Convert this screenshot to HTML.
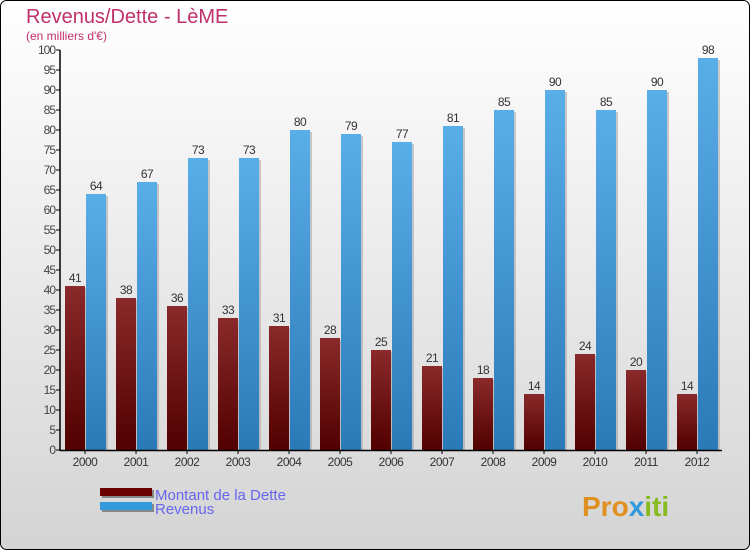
<!DOCTYPE html>
<html><head><meta charset="utf-8"><style>
body{margin:0}
svg text{font-family:"Liberation Sans",sans-serif}
</style></head><body>
<svg width="750" height="550" xmlns="http://www.w3.org/2000/svg">
<defs>
<linearGradient id="bg" x1="0" y1="0" x2="0" y2="1"><stop offset="0" stop-color="#ffffff"/><stop offset="1" stop-color="#d4d4d4"/></linearGradient>
<linearGradient id="gd" x1="0" y1="0" x2="0" y2="1"><stop offset="0" stop-color="#8a2a2a"/><stop offset="1" stop-color="#520000"/></linearGradient>
<linearGradient id="gr" x1="0" y1="0" x2="0" y2="1"><stop offset="0" stop-color="#5aaee8"/><stop offset="1" stop-color="#2a7ab8"/></linearGradient>
</defs>
<rect x="0.5" y="0.5" width="749" height="549" rx="6" fill="url(#bg)" stroke="#000"/>
<text x="26" y="23" font-size="20" fill="#c0306a">Revenus/Dette - LèME</text>
<text x="26" y="40" font-size="12" fill="#c0306a">(en milliers d'€)</text>
<g id="plot"></g>
<g>
<rect x="102" y="490" width="52" height="8" fill="#888"/><rect x="100" y="488" width="52" height="8" fill="#6a0000"/>
<text x="155" y="500" font-size="15" fill="#6666ee">Montant de la Dette</text>
<rect x="102" y="504" width="52" height="8" fill="#888"/><rect x="100" y="502" width="52" height="8" fill="#3399dd"/>
<text x="155" y="514" font-size="15" fill="#6666ee">Revenus</text>
</g>
<text x="582" y="516" font-size="28" font-weight="bold" fill="#e09020">Pro<tspan fill="#3399dd">x</tspan><tspan fill="#88bb22">iti</tspan></text>
</svg>
<script>
const years=["2000","2001","2002","2003","2004","2005","2006","2007","2008","2009","2010","2011","2012"];
const dette=[41,38,36,33,31,28,25,21,18,14,24,20,14];
const revenus=[64,67,73,73,80,79,77,81,85,90,85,90,98];
const yTicks=[0,5,10,15,20,25,30,35,40,45,50,55,60,65,70,75,80,85,90,95,100];
const NS="http://www.w3.org/2000/svg";
const g=document.getElementById('plot');
const y=v=>450-v*4;
const x=i=>85+i*51;
function mk(t,a,txt){const e=document.createElementNS(NS,t);for(const k in a)e.setAttribute(k,a[k]);if(txt!==undefined)e.textContent=txt;g.appendChild(e);return e;}
yTicks.forEach(v=>{
 const t=mk('line',{x1:56,x2:60,y1:y(v),y2:y(v),stroke:'#000'});
 
 const l=mk('text',{x:55,y:y(v)+4,'font-size':12,fill:'#444','text-anchor':'end','letter-spacing':'-1'},v);
 
});
years.forEach((yr,i)=>{
 const cx=x(i);
 mk('rect',{x:cx-20+2,y:y(dette[i])+2,width:20,height:dette[i]*4-2,fill:'#999',opacity:0.5});
 const b1=mk('rect',{x:cx-20,y:y(dette[i]),width:20,height:dette[i]*4,fill:'url(#gd)'});
 
 mk('rect',{x:cx+1+2,y:y(revenus[i])+2,width:20,height:revenus[i]*4-2,fill:'#999',opacity:0.5});
 const b2=mk('rect',{x:cx+1,y:y(revenus[i]),width:20,height:revenus[i]*4,fill:'url(#gr)'});
 
 const v1=mk('text',{x:cx-10,y:y(dette[i])-4,'font-size':12,fill:'#333','text-anchor':'middle','letter-spacing':'-0.5'},dette[i]);
 
 const v2=mk('text',{x:cx+11,y:y(revenus[i])-4,'font-size':12,fill:'#333','text-anchor':'middle','letter-spacing':'-0.5'},revenus[i]);
 
 const tk=mk('line',{x1:cx,x2:cx,y1:450,y2:454,stroke:'#000'});
 
 const xl=mk('text',{x:cx,y:466,'font-size':12,fill:'#333','text-anchor':'middle','letter-spacing':'-0.5'},yr);
 
});
const ya=mk('line',{x1:60,x2:60,y1:50,y2:451,stroke:'#000','stroke-width':1.5});

const xa=mk('line',{x1:60,x2:722,y1:450.5,y2:450.5,stroke:'#000','stroke-width':1.5});

</script>
</body></html>
